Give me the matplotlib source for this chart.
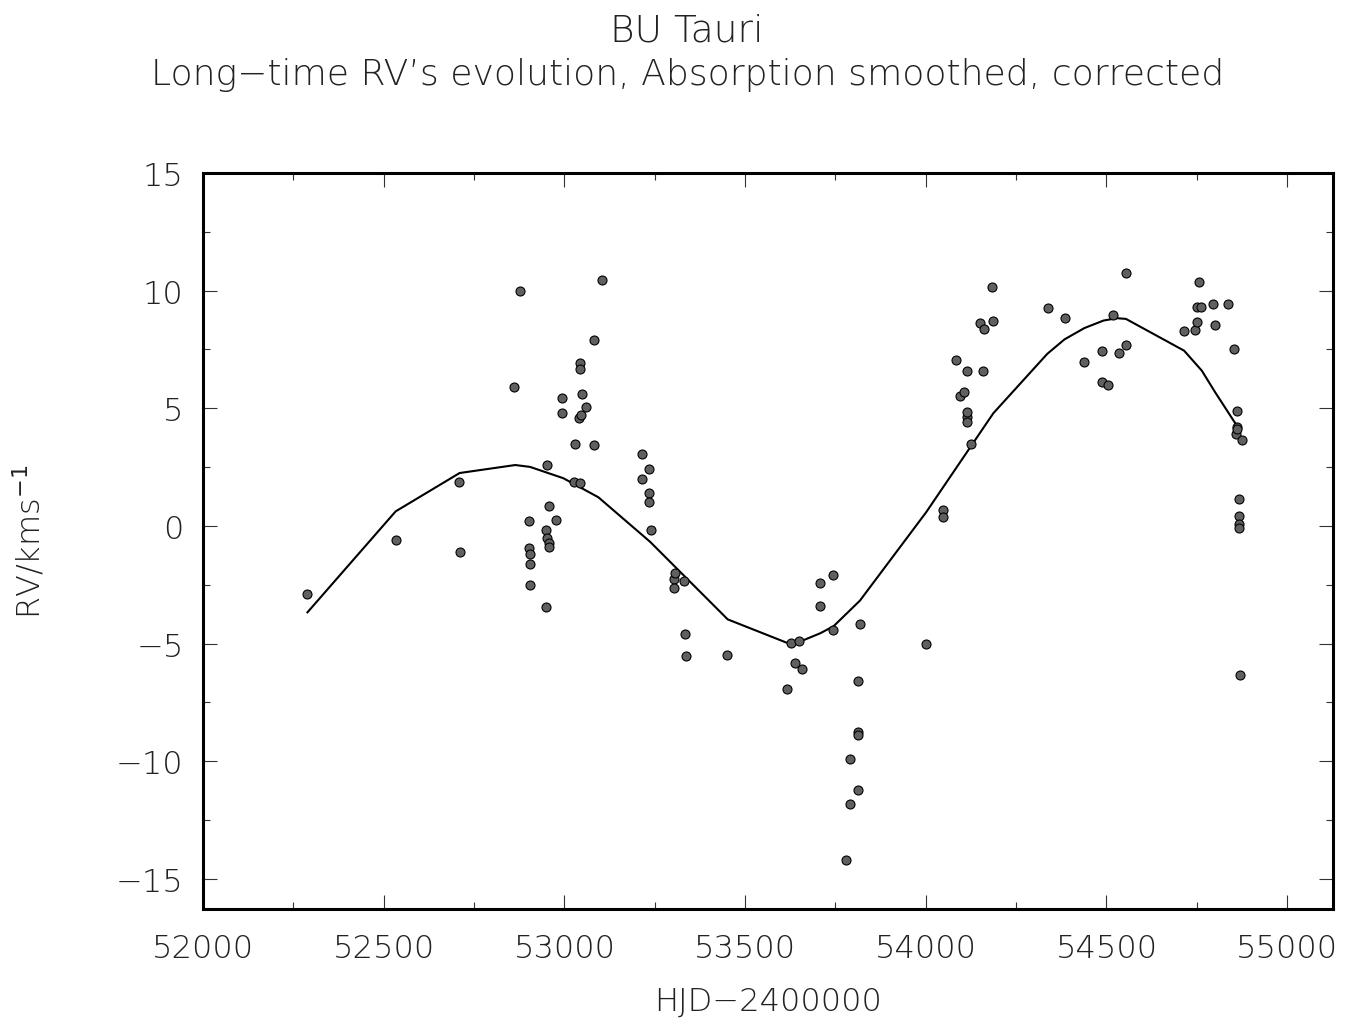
import matplotlib
matplotlib.use("Agg")
import matplotlib.pyplot as plt
from matplotlib.ticker import MultipleLocator

# measured RVs (HJD - 2400000, km/s)
hjd = [52289, 52535, 52708, 52710, 52861, 52877, 52903, 52903, 52905, 52905,
       52905, 52950, 52950, 52952, 52952, 52957, 52958, 52958, 52978, 52993,
       52993, 53026, 53030, 53041, 53043, 53043, 53044, 53047, 53049, 53060,
       53082, 53082, 53103, 53216, 53216, 53235, 53235, 53235, 53239, 53303,
       53303, 53306, 53332, 53335, 53336, 53451, 53615, 53627, 53638, 53650,
       53657, 53708, 53708, 53744, 53744, 53780, 53790, 53790, 53812, 53812,
       53812, 53813, 53817, 54000, 54047, 54047, 54083, 54096, 54106, 54113,
       54113, 54113, 54114, 54124, 54150, 54159, 54162, 54184, 54187, 54339,
       54384, 54439, 54488, 54488, 54505, 54517, 54534, 54554, 54554, 54715,
       54745, 54750, 54750, 54757, 54761, 54795, 54801, 54837, 54854, 54859,
       54860, 54861, 54861, 54868, 54868, 54868, 54868, 54870, 54876]
rv = [-2.90, -0.60, 1.88, -1.09, 5.92, 10.00, 0.23, -0.92, -1.18, -1.60,
      -2.52, -3.43, -0.17, -0.50, 2.61, -0.72, -0.88, 0.84, 0.27, 5.43,
      4.80, 1.88, 3.48, 4.60, 6.91, 1.81, 6.69, 4.72, 5.61, 5.04,
      7.89, 3.43, 10.44, 3.05, 2.01, 2.42, 1.39, 1.03, -0.16, -2.27,
      -2.62, -1.98, -2.32, -4.60, -5.51, -5.47, -6.93, -4.99, -5.81, -4.90,
      -6.08, -2.44, -3.41, -2.08, -4.42, -14.18, -9.90, -11.80, -8.77, -8.87,
      -11.21, -6.60, -4.18, -5.01, 0.68, 0.37, 7.05, 5.54, 5.68, 6.57,
      4.65, 4.41, 4.83, 3.48, 8.61, 6.57, 8.39, 10.14, 8.70, 9.26,
      8.85, 6.97, 7.42, 6.11, 6.01, 8.97, 7.37, 7.68, 10.77, 8.30,
      8.33, 8.67, 9.31, 10.37, 9.29, 9.45, 8.56, 9.42, 7.54, 3.91,
      4.19, 4.90, 4.12, 1.15, 0.44, 0.07, -0.08, -6.35, 3.64]

# smoothed curve
fit_hjd = [52289, 52533, 52710, 52864, 52905, 52997, 53094, 53237, 53452,
           53620, 53648, 53708, 53745, 53818, 54001, 54187, 54336, 54384,
           54439, 54492, 54529, 54554, 54715, 54764, 54801, 54861, 54866]
fit_rv = [-3.67, 0.62, 2.25, 2.59, 2.51, 2.03, 1.22, -0.67, -3.97,
          -4.99, -4.94, -4.56, -4.26, -3.17, 0.58, 4.79, 7.31, 7.93,
          8.41, 8.73, 8.83, 8.80, 7.45, 6.60, 5.68, 4.26, 4.00]

plt.rcParams["font.family"] = ["DejaVu Sans"]

fig = plt.figure(figsize=(13.5, 10.2), dpi=100)
ax = fig.add_axes([0.1504, 0.1078, 0.8370, 0.7216])

ax.plot(fit_hjd, fit_rv, color="black", lw=1.5, zorder=2)
ax.scatter(hjd, rv, s=42, facecolor="#606060", edgecolor="black", linewidths=0.8, zorder=3)

ax.set_xlim(52000, 55127)
ax.set_ylim(-16.28, 15)
ax.xaxis.set_major_locator(MultipleLocator(500))
ax.xaxis.set_minor_locator(MultipleLocator(250))
ax.yaxis.set_major_locator(MultipleLocator(5))
ax.yaxis.set_minor_locator(MultipleLocator(2.5))

ax.tick_params(which="both", direction="in", top=True, right=True, width=0.8, color="#333333")
ax.tick_params(which="major", length=10)
ax.tick_params(which="minor", length=5)
ax.tick_params(axis="x", which="major", labelsize=23, pad=17)
ax.tick_params(axis="y", which="major", labelsize=23, pad=14)
for sp in ax.spines.values():
    sp.set_linewidth(2.2)

for lab in ax.get_xticklabels() + ax.get_yticklabels():
    lab.set_color("#222222")
    lab.set_fontweight("light")

ax.set_xlabel("HJD\u22122400000", fontsize=23, color="#222222", labelpad=17, fontweight="light")
ax.set_ylabel("RV/kms$^{-1}$", fontsize=23, color="#222222", labelpad=50, fontweight="light")

fig.text(0.509, 0.970, "BU Tauri", ha="center", va="center", fontsize=27, color="#222222", fontweight="light")
fig.text(0.509, 0.926, "Long\u2212time RV\u2019s evolution, Absorption smoothed, corrected",
         ha="center", va="center", fontsize=26, color="#222222", fontweight="light")

fig.savefig("out.png", dpi=100)
